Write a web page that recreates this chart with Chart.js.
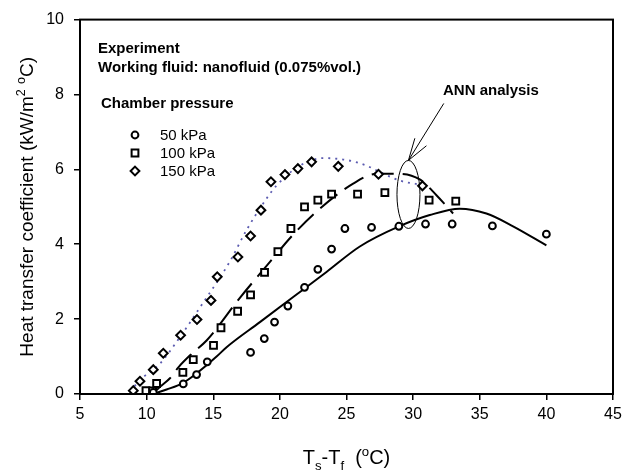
<!DOCTYPE html>
<html>
<head>
<meta charset="utf-8">
<script src="https://cdn.jsdelivr.net/npm/chart.js@4.4.1/dist/chart.umd.min.js"></script>
<style>
  html, body { margin: 0; padding: 0; background: #fff; }
  #wrap { width: 628px; height: 471px; }
</style>
</head>
<body>
<div id="wrap"><canvas id="c" width="628" height="471"></canvas></div>
<script>
// ---- data ----
const xTickValues = [5, 10, 15, 20, 25, 30, 35, 40, 45];
const yTickValues = [0, 2, 4, 6, 8, 10];

// Experiment, 50 kPa (circles)
const x50 = [10.5, 12.75, 13.75, 14.55, 17.8, 18.83, 19.6, 20.6, 21.85, 22.85, 23.88, 24.88, 26.88, 28.93, 30.93, 32.93, 35.95, 40.0];
const y50 = [0.04, 0.27, 0.52, 0.86, 1.11, 1.48, 1.92, 2.35, 2.85, 3.33, 3.87, 4.42, 4.45, 4.48, 4.54, 4.54, 4.49, 4.27];

// Experiment, 100 kPa (squares)
const x100 = [9.95, 10.45, 10.75, 12.72, 13.5, 15.02, 15.58, 16.83, 17.8, 18.85, 19.85, 20.83, 21.85, 22.85, 23.88, 25.83, 27.88, 31.2, 33.2];
const y100 = [0.09, 0.08, 0.28, 0.58, 0.92, 1.3, 1.77, 2.21, 2.65, 3.25, 3.8, 4.42, 5.0, 5.18, 5.34, 5.34, 5.38, 5.18, 5.15];

// Experiment, 150 kPa (diamonds)
const x150 = [9.0, 9.5, 10.5, 11.25, 12.55, 13.78, 14.83, 15.3, 16.85, 17.8, 18.58, 19.33, 20.38, 21.35, 22.38, 24.38, 27.4, 30.7];
const y150 = [0.09, 0.34, 0.65, 1.09, 1.57, 1.99, 2.5, 3.13, 3.66, 4.22, 4.91, 5.67, 5.86, 6.02, 6.2, 6.08, 5.87, 5.56];

// ANN analysis curves
const annX50 = [10.5, 11.5, 12.75, 13.75, 15.25, 16, 18.5, 21, 23.5, 26, 28.9, 31.25, 33.5, 35.5, 37.5, 40];
const annY50 = [0, 0.12, 0.3, 0.55, 1.0, 1.25, 1.92, 2.59, 3.26, 3.94, 4.47, 4.78, 4.95, 4.82, 4.48, 3.97];

const annX100 = [10.6, 11, 11.75, 12.4, 13.4, 14.5, 17, 19.5, 20.75, 22.75, 25.5, 27.25, 29, 30.5, 31.75, 33];
const annY100 = [0.05, 0.19, 0.42, 0.72, 1.08, 1.43, 2.57, 3.63, 4.16, 4.87, 5.62, 5.88, 5.88, 5.73, 5.31, 4.82];

const annX150 = [8.8, 9.3, 11, 12.5, 14, 16.25, 17.5, 19, 19.75, 21.5, 23.25, 25, 26.5, 27.5, 29, 30.5, 31.1];
const annY150 = [0.05, 0.3, 0.81, 1.52, 2.31, 3.54, 4.38, 5.22, 5.57, 6.1, 6.3, 6.25, 6.1, 5.93, 5.7, 5.59, 5.53];

const seriesLabels = ['50 kPa', '100 kPa', '150 kPa'];
// ---------------------------------------

const FONT = "Arial, 'Liberation Sans', Helvetica, sans-serif";
const pts = (xs, ys) => xs.map((x, i) => ({ x: x, y: ys[i] }));

function markerDS(label, xs, ys, style, r) {
  return {
    type: 'scatter', label: label, data: pts(xs, ys), showLine: false,
    pointStyle: style, pointRadius: r, pointHoverRadius: r,
    pointBorderWidth: 2, pointBorderColor: '#000', pointBackgroundColor: '#fff',
    order: 0
  };
}
function lineDS(label, xs, ys, color, dash, w) {
  return {
    type: 'line', label: label, data: pts(xs, ys), showLine: true,
    borderColor: color, borderWidth: w, borderDash: dash, pointRadius: 0,
    cubicInterpolationMode: 'monotone', fill: false, order: 1
  };
}

function drawMarker(ctx, style, x, y, r) {
  ctx.save();
  ctx.lineWidth = 2; ctx.strokeStyle = '#000'; ctx.fillStyle = '#fff';
  ctx.beginPath();
  if (style === 'circle') {
    ctx.arc(x, y, r, 0, Math.PI * 2);
  } else if (style === 'rect') {
    const h = r * Math.SQRT1_2;
    ctx.rect(x - h, y - h, 2 * h, 2 * h);
  } else {
    ctx.moveTo(x, y - r); ctx.lineTo(x + r, y); ctx.lineTo(x, y + r); ctx.lineTo(x - r, y); ctx.closePath();
  }
  ctx.fill(); ctx.stroke();
  ctx.restore();
}

// draws a sequence of text pieces with sub/superscripts, returns width
function richText(ctx, parts, size, x, y, measureOnly) {
  let cx = x;
  for (const p of parts) {
    const s = p.s ? size * 0.66 : size;
    ctx.font = s + 'px ' + FONT;
    const dy = p.s === 'sup' ? -size * 0.42 : (p.s === 'sub' ? size * 0.28 : 0);
    if (!measureOnly) ctx.fillText(p.t, cx, y + dy);
    cx += ctx.measureText(p.t).width;
  }
  return cx - x;
}

const decor = {
  id: 'decor',
  afterDraw(chart) {
    const ctx = chart.ctx;
    const a = chart.chartArea;
    const xs = chart.scales.x, ys = chart.scales.y;
    ctx.save();
    // frame
    ctx.strokeStyle = '#000'; ctx.lineWidth = 2;
    ctx.strokeRect(a.left, a.top, a.right - a.left, a.bottom - a.top);

    // texts
    ctx.fillStyle = '#000';
    ctx.textBaseline = 'alphabetic';
    ctx.textAlign = 'left';
    ctx.font = 'bold 15px ' + FONT;
    ctx.fillText('Experiment', 98, 53);
    ctx.fillText('Working fluid: nanofluid (0.075%vol.)', 98, 72);
    ctx.fillText('Chamber pressure', 101, 108);
    ctx.fillText('ANN analysis', 443, 95);

    // legend
    const styles = [['circle', 3.4], ['rect', 4.8], ['rectRot', 4.4]];
    const rows = [135, 153, 171];
    ctx.font = '15px ' + FONT;
    for (let i = 0; i < 3; i++) {
      drawMarker(ctx, styles[i][0], 135, rows[i], styles[i][1]);
      ctx.fillStyle = '#000';
      ctx.font = '15px ' + FONT;
      ctx.fillText(seriesLabels[i], 160, rows[i] + 5);
    }

    // ellipse + arrow (ANN annotation)
    const ex = xs.getPixelForValue(29.65), ey = ys.getPixelForValue(5.33);
    ctx.lineWidth = 1; ctx.strokeStyle = '#000';
    ctx.beginPath();
    ctx.ellipse(ex, ey, 11.5, 34, 0, 0, Math.PI * 2);
    ctx.stroke();
    const tipX = xs.getPixelForValue(29.65), tipY = ys.getPixelForValue(6.24);
    ctx.beginPath();
    ctx.moveTo(xs.getPixelForValue(32.3), ys.getPixelForValue(7.76));
    ctx.lineTo(tipX, tipY);
    ctx.moveTo(xs.getPixelForValue(30.13), ys.getPixelForValue(6.83));
    ctx.lineTo(tipX, tipY);
    ctx.lineTo(xs.getPixelForValue(31.0), ys.getPixelForValue(6.63));
    ctx.stroke();

    // x axis title: Ts-Tf (oC)
    ctx.fillStyle = '#000';
    const xParts = [{t: 'T'}, {t: 's', s: 'sub'}, {t: '-T'}, {t: 'f', s: 'sub'}, {t: '  ('}, {t: 'o', s: 'sup'}, {t: 'C)'}];
    const wX = richText(ctx, xParts, 20, 0, 0, true);
    richText(ctx, xParts, 20, (a.left + a.right) / 2 - wX / 2, 464, false);

    // y axis title
    const yParts = [{t: 'Heat transfer coefficient (kW/m'}, {t: '2', s: 'sup'}, {t: ' '}, {t: 'o', s: 'sup'}, {t: 'C)'}];
    const wY = richText(ctx, yParts, 19, 0, 0, true);
    ctx.translate(33, (a.top + a.bottom) / 2);
    ctx.rotate(-Math.PI / 2);
    richText(ctx, yParts, 19, -wY / 2, 0, false);
    ctx.restore();
  }
};

new Chart(document.getElementById('c'), {
  data: {
    datasets: [
      markerDS(seriesLabels[0], x50, y50, 'circle', 3.4),
      markerDS(seriesLabels[1], x100, y100, 'rect', 4.8),
      markerDS(seriesLabels[2], x150, y150, 'rectRot', 4.4),
      lineDS('ANN 50 kPa', annX50, annY50, '#000', [], 2),
      lineDS('ANN 100 kPa', annX100, annY100, '#000', [22, 9], 2),
      lineDS('ANN 150 kPa', annX150, annY150, '#5b5bb0', [2, 5], 1.8)
    ]
  },
  options: {
    responsive: false,
    animation: false,
    devicePixelRatio: 1,
    layout: { padding: { left: 0, right: 15, top: 16, bottom: 0 } },
    plugins: { legend: { display: false }, tooltip: { enabled: false } },
    scales: {
      x: {
        type: 'linear', min: 5, max: 45,
        afterBuildTicks(s) { s.ticks = xTickValues.map(v => ({ value: v })); },
        afterFit(s) { s.height = 77; },
        border: { display: false },
        grid: { drawOnChartArea: false, drawTicks: true, tickLength: 6, color: '#000', lineWidth: 1.5 },
        ticks: { color: '#000', font: { family: FONT, size: 16 }, padding: 5, maxRotation: 0 }
      },
      y: {
        type: 'linear', min: 0, max: 10,
        afterBuildTicks(s) { s.ticks = yTickValues.map(v => ({ value: v })); },
        afterFit(s) { s.width = 80; },
        border: { display: false },
        grid: { drawOnChartArea: false, drawTicks: true, tickLength: 6, color: '#000', lineWidth: 1.5 },
        ticks: { color: '#000', font: { family: FONT, size: 16 }, padding: 10 }
      }
    }
  },
  plugins: [decor]
});
</script>
</body>
</html>
